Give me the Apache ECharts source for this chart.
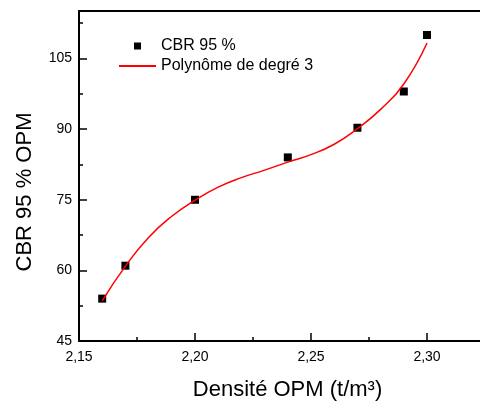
<!DOCTYPE html>
<html>
<head>
    <meta charset="utf-8" />
    <title>CBR 95 % OPM</title>
    <script src="https://cdn.jsdelivr.net/npm/echarts@6/dist/echarts.min.js"></script>
</head>
<body style="margin:0">
<div id="main" style="width: 480px;height:403px;"></div>
<script type="text/javascript">
    // points mesurés
    var densite = [2.16, 2.17, 2.20, 2.24, 2.27, 2.29, 2.30];
    var cbr = [54, 61, 75, 84, 90.3, 98, 110];
    // courbe d'ajustement
    var fitX = [2.16, 2.17, 2.18, 2.19, 2.20, 2.21, 2.22, 2.23, 2.24, 2.25, 2.26, 2.27, 2.28, 2.29, 2.30];
    var fitY = [53.5, 60.9, 67.0, 71.5, 74.9, 77.7, 79.7, 81.3, 83.0, 84.6, 86.8, 90.1, 94.2, 99.6, 108.3];

    var font = 'Liberation Sans, Arial, sans-serif';
    var xMin = 2.15, xMax = 2.3237, yMin = 45, yMax = 115.1;

    var myChart = echarts.init(document.getElementById('main'));

    var pts = densite.map(function (d, i) { return [d, cbr[i]]; });
    var fit = fitX.map(function (d, i) { return [d, fitY[i]]; });

    var axeNoir = {show: true, lineStyle: {color: '#000', width: 2}};
    var cadre = {left: 79, top: 11, right: -2, bottom: 62, outerBoundsMode: 'none'};
    var rien = {show: false};

    var option = {
        animation: false,
        // 0 : axes principaux, 1 : petites graduations, 2 : bord du haut
        grid: [Object.assign({}, cadre), Object.assign({}, cadre), Object.assign({}, cadre)],
        legend: {
            left: 113, top: 33, orient: 'vertical',
            itemWidth: 37, itemHeight: 7, itemGap: 4, symbolKeepAspect: true,
            textStyle: {fontFamily: font, fontSize: 16, color: '#000', lineHeight: 16},
            data: [
                {name: 'CBR 95 %', icon: 'path://M0,0h10v10h-10z', itemStyle: {color: '#000', opacity: 1}},
                {name: 'Polynôme de degré 3', itemStyle: {opacity: 0}}
            ]
        },
        xAxis: [
            {
                type: 'value', gridIndex: 0, min: xMin, max: xMax, interval: 0.05,
                name: 'Densité OPM (t/m³)', nameLocation: 'middle', nameGap: 38,
                nameTextStyle: {fontFamily: font, fontSize: 22, color: '#000', padding: [0, 0, 0, 14]},
                axisLine: axeNoir,
                axisTick: {inside: true, length: 8, lineStyle: {color: '#000', width: 1.5}},
                axisLabel: {
                    fontFamily: font, fontSize: 14, color: '#000', margin: 9, showMaxLabel: false,
                    formatter: function (v) { return v.toFixed(2).replace('.', ','); }
                },
                splitLine: rien
            },
            {
                type: 'value', gridIndex: 1, min: xMin, max: xMax, interval: 0.025,
                axisLine: rien, axisLabel: rien, splitLine: rien,
                axisTick: {inside: true, length: 4, lineStyle: {color: '#000', width: 1.5}}
            },
            {
                type: 'value', gridIndex: 2, position: 'top', min: xMin, max: xMax,
                axisLine: axeNoir, axisTick: rien, axisLabel: rien, splitLine: rien
            }
        ],
        yAxis: [
            {
                type: 'value', gridIndex: 0, min: yMin, max: yMax, interval: 15,
                name: 'CBR 95 % OPM', nameLocation: 'middle', nameGap: 43,
                nameTextStyle: {fontFamily: font, fontSize: 22, color: '#000', padding: [0, 32, 0, 0]},
                axisLine: axeNoir,
                axisTick: {inside: true, length: 8, lineStyle: {color: '#000', width: 1.5}},
                axisLabel: {fontFamily: font, fontSize: 14, color: '#000', margin: 7, showMaxLabel: false},
                splitLine: rien
            },
            {
                type: 'value', gridIndex: 1, min: yMin, max: yMax, interval: 7.5,
                axisLine: rien, axisLabel: rien, splitLine: rien,
                axisTick: {inside: true, length: 4, lineStyle: {color: '#000', width: 1.5}}
            },
            {
                type: 'value', gridIndex: 2, min: yMin, max: yMax,
                axisLine: rien, axisTick: rien, axisLabel: rien, splitLine: rien
            }
        ],
        series: [
            {
                name: 'Polynôme de degré 3', type: 'line', xAxisIndex: 0, yAxisIndex: 0,
                data: fit, smooth: true, symbol: 'none',
                lineStyle: {color: '#ff0000', width: 1.5}, itemStyle: {color: '#ff0000'}
            },
            {
                name: 'CBR 95 %', type: 'scatter', xAxisIndex: 0, yAxisIndex: 0,
                data: pts, symbol: 'rect', symbolSize: 8,
                itemStyle: {color: '#000', opacity: 1}
            }
        ]
    };
    myChart.setOption(option);
</script>
</body>
</html>
